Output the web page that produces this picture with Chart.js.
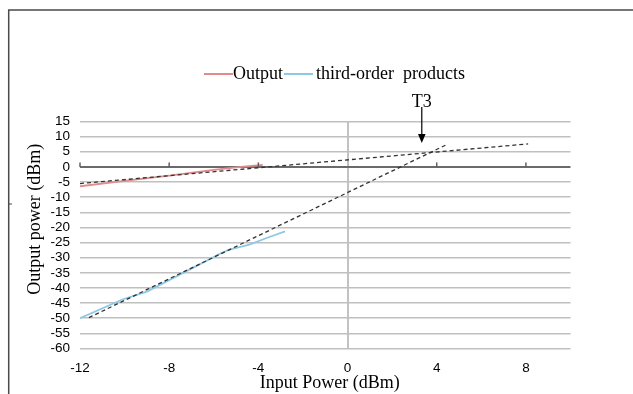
<!DOCTYPE html>
<html><head><meta charset="utf-8">
<script src="https://cdn.jsdelivr.net/npm/chart.js@4"></script>
<style>html,body{margin:0;padding:0;background:#fff}#wrap{width:633px;height:394px}</style>
</head><body>
<div id="wrap"><canvas id="c" width="633" height="394"></canvas></div>
<script>
// ---- data ----
const seriesNames = ['Output', 'third-order  products'];
const outputX = [-12, -10, -8, -6, -4.8, -3.8];
const outputY = [-6.4, -4.6, -2.9, -1.0, 0.0, 0.7];
const thirdX = [-12, -10.1, -9.0, -8.5, -7.0, -5.7, -5.3, -4.4, -3.6, -2.8];
const thirdY = [-50, -43.8, -41.2, -39.3, -33.6, -28.6, -27.3, -25.7, -23.4, -21.3];
const fundFitX = [-12, 8.1];
const fundFitY = [-5.5, 7.6];
const thirdFitX = [-11.6, 4.4];
const thirdFitY = [-49.8, 7.2];
const xTicks = [-12, -8, -4, 0, 4, 8];
const yTicks = [-60, -55, -50, -45, -40, -35, -30, -25, -20, -15, -10, -5, 0, 5, 10, 15];
const xMin = -12, xMax = 10, yMin = -60, yMax = 15;
const xTitle = 'Input Power (dBm)';
const yTitle = 'Output power (dBm)';
const markerLabel = 'T3';
const markerX = 3.33;
const markerTipY = 7.9;

const toPts = (xs, ys) => xs.map((x, i) => ({x, y: ys[i]}));
const SERIF = '"Liberation Serif", "Times New Roman", serif';
const SANS = '"Liberation Sans", Arial, sans-serif';
const colors = ['#e38a8c', '#8cc9e6'];

const deco = {
  id: 'deco',
  beforeDraw(chart) {
    const ctx = chart.ctx;
    ctx.save(); ctx.fillStyle = '#fff'; ctx.fillRect(0, 0, chart.width, chart.height); ctx.restore();
  },
  afterDraw(chart) {
    const ctx = chart.ctx, xs = chart.scales.x, ys = chart.scales.y;
    ctx.save();
    // tick marks on the zero axis line
    const y0 = ys.getPixelForValue(0);
    ctx.strokeStyle = '#606060'; ctx.lineWidth = 1.5;
    xTicks.forEach(v => {
      if (v === 0) return;
      const px = xs.getPixelForValue(v);
      ctx.beginPath(); ctx.moveTo(px, y0); ctx.lineTo(px, y0 - 4.5); ctx.stroke();
    });
    // outer frame
    ctx.strokeStyle = '#4a4a4a'; ctx.lineWidth = 1.5;
    ctx.beginPath(); ctx.moveTo(8.7, 394); ctx.lineTo(8.7, 10); ctx.lineTo(633, 10); ctx.stroke();
    ctx.lineWidth = 1; ctx.beginPath(); ctx.moveTo(9, 204); ctx.lineTo(12, 204); ctx.stroke();
    // T3 arrow
    const ax = xs.getPixelForValue(markerX), tip = ys.getPixelForValue(markerTipY);
    ctx.strokeStyle = '#000'; ctx.lineWidth = 1.2;
    ctx.beginPath(); ctx.moveTo(ax, tip - 36); ctx.lineTo(ax, tip - 8); ctx.stroke();
    ctx.fillStyle = '#000';
    ctx.beginPath(); ctx.moveTo(ax - 3.8, tip - 9); ctx.lineTo(ax + 3.8, tip - 9); ctx.lineTo(ax, tip); ctx.closePath(); ctx.fill();
    ctx.font = '18px ' + SERIF; ctx.textAlign = 'center'; ctx.textBaseline = 'middle';
    ctx.fillText(markerLabel, ax, tip - 41);
    // legend
    let lx = 204; const ly = 74;
    ctx.textAlign = 'left';
    [0, 1].forEach(i => {
      const ds = chart.data.datasets[i];
      ctx.strokeStyle = ds.borderColor; ctx.lineWidth = 2;
      ctx.beginPath(); ctx.moveTo(lx, ly); ctx.lineTo(lx + 29, ly); ctx.stroke();
      lx += 29 + (i ? 3 : 0);
      ctx.fillStyle = '#000';
      ctx.fillText(ds.label, lx, ly);
      lx += ctx.measureText(ds.label).width + 1;
    });
    ctx.restore();
  }
};

new Chart(document.getElementById('c'), {
  type: 'scatter',
  data: {
    datasets: [
      {label: seriesNames[0], data: toPts(outputX, outputY), showLine: true, borderColor: colors[0], borderWidth: 1.8, pointRadius: 0, order: 3},
      {label: seriesNames[1], data: toPts(thirdX, thirdY), showLine: true, borderColor: colors[1], borderWidth: 1.8, pointRadius: 0, order: 3},
      {label: 'fit1', data: toPts(fundFitX, fundFitY), showLine: true, borderColor: '#333', borderWidth: 1.3, borderDash: [4, 3], pointRadius: 0, order: 1},
      {label: 'fit3', data: toPts(thirdFitX, thirdFitY), showLine: true, borderColor: '#333', borderWidth: 1.3, borderDash: [4, 3], pointRadius: 0, order: 1}
    ]
  },
  options: {
    responsive: false,
    animation: false,
    devicePixelRatio: 1,
    layout: {padding: {left: 0, right: 62.5, top: 121.5, bottom: 0}},
    plugins: {legend: {display: false}, tooltip: {enabled: false}},
    scales: {
      x: {
        type: 'linear', min: xMin, max: xMax,
        afterBuildTicks: s => { s.ticks = xTicks.map(v => ({value: v})); },
        afterFit: s => { s.height = 45.5; },
        border: {display: false},
        grid: {
          drawTicks: false,
          color: c => (c.tick && c.tick.value === 0) ? '#c2c2c2' : 'rgba(0,0,0,0)',
          lineWidth: 2
        },
        ticks: {autoSkip: false, maxRotation: 0, font: {family: SANS, size: 13.5}, color: '#000', padding: 12},
        title: {display: true, text: '  ' + xTitle, font: {family: SERIF, size: 18}, color: '#000', padding: {top: 0, bottom: 0}}
      },
      y: {
        type: 'linear', min: yMin, max: yMax,
        afterBuildTicks: s => { s.ticks = yTicks.map(v => ({value: v})); },
        afterFit: s => { s.width = 80; },
        border: {display: false},
        grid: {
          drawTicks: false,
          color: c => (c.tick && c.tick.value === 0) ? '#6a6a6a' : '#c0c0c0',
          lineWidth: c => (c.tick && c.tick.value === 0) ? 2 : 1.5
        },
        ticks: {autoSkip: false, font: {family: SANS, size: 13.5}, color: '#000', padding: 10},
        title: {display: true, text: '       ' + yTitle, font: {family: SERIF, size: 18}, color: '#000', padding: {top: 24, bottom: 0}}
      }
    }
  },
  plugins: [deco]
});
</script>
</body></html>
